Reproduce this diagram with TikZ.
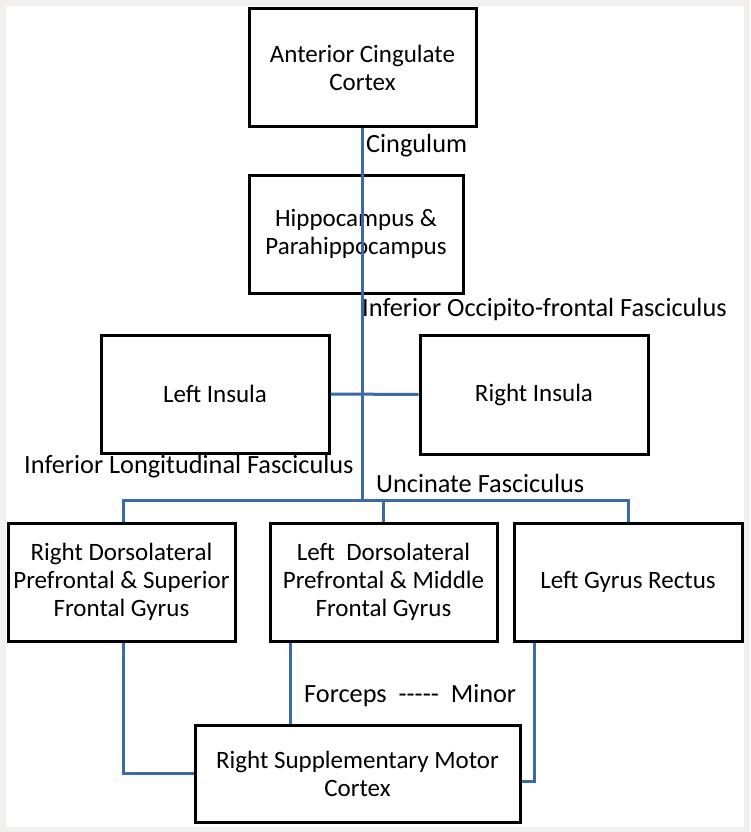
\documentclass[tikz,border=0pt]{standalone}
\usepackage{fontspec}
\setmainfont{Carlito}
\definecolor{linkblue}{HTML}{3D6AA3}
\definecolor{framegrey}{HTML}{F2EFEF}
\begin{document}
\begin{tikzpicture}[x=1pt,y=-1pt,
  box/.style={draw=black,line width=3pt,fill=white,align=center,inner sep=0pt,
    font=\fontsize{25}{28}\selectfont},
  conn/.style={draw=linkblue,line width=3pt},
  lbl/.style={font=\fontsize{26.3}{28}\selectfont,inner sep=0pt,anchor=west}]
\useasboundingbox (0,0) rectangle (750,832);
\fill[framegrey] (0,0) rectangle (750,832);
\fill[white] (6,6) rectangle (744,827);
% boxes
\node[box,minimum width=227pt,minimum height=118pt] (acc) at (362.5,68) {Anterior Cingulate\\Cortex};
\node[box,minimum width=214pt,minimum height=118pt] (hip) at (356,234) {Hippocampus \&\\Parahippocampus};
\node[box,minimum width=228pt,minimum height=118pt] (li) at (215,394) {Left Insula};
\node[box,minimum width=228pt,minimum height=119pt] (ri) at (534,394.5) {Right Insula};
\node[box,minimum width=227pt,minimum height=118pt] (b1) at (121.5,582) {Right Dorsolateral\\Prefrontal \& Superior\\Frontal Gyrus};
\node[box,minimum width=227pt,minimum height=118pt] (b2) at (383.5,582) {Left\ \ Dorsolateral\\Prefrontal \& Middle\\Frontal Gyrus};
\node[box,minimum width=228pt,minimum height=118pt] (b3) at (628,582) {Left Gyrus Rectus};
\node[box,minimum width=325pt,minimum height=97pt] (sm) at (357.5,773.5) {Right Supplementary Motor\\Cortex};
% connectors
\coordinate (hub) at (362,500);
\draw[conn] (acc.south -| hub) -- (hub);
\draw[conn] (li.east) -- (ri.west);
\draw[conn] ([xshift=1.5pt]b1.north) |- (hub) -| (b3.north);
\draw[conn] (b2.north) -- (b2.north |- hub);
\draw[conn] ([xshift=1.5pt]b1.south) |- (sm.west);
\draw[conn] ([xshift=22pt]b2.south west) -- ([xshift=22pt]b2.south west |- sm.north);
\draw[conn] ([xshift=22pt]b3.south west) |- ([yshift=-7.5pt]sm.east);
% labels
\node[lbl] (l1) at (366,146) {Cingulum};
\node[lbl] (l2) at (362,309) {Inferior Occipito-frontal Fasciculus};
\node[lbl] (l3) at (24,467) {Inferior Longitudinal Fasciculus};
\node[lbl] (l4) at (376,483) {Uncinate Fasciculus};
\node[lbl] (l5) at (304,696) {Forceps\ \ {-}{-}{-}{-}{-}\ \ Minor};
\end{tikzpicture}
\end{document}
